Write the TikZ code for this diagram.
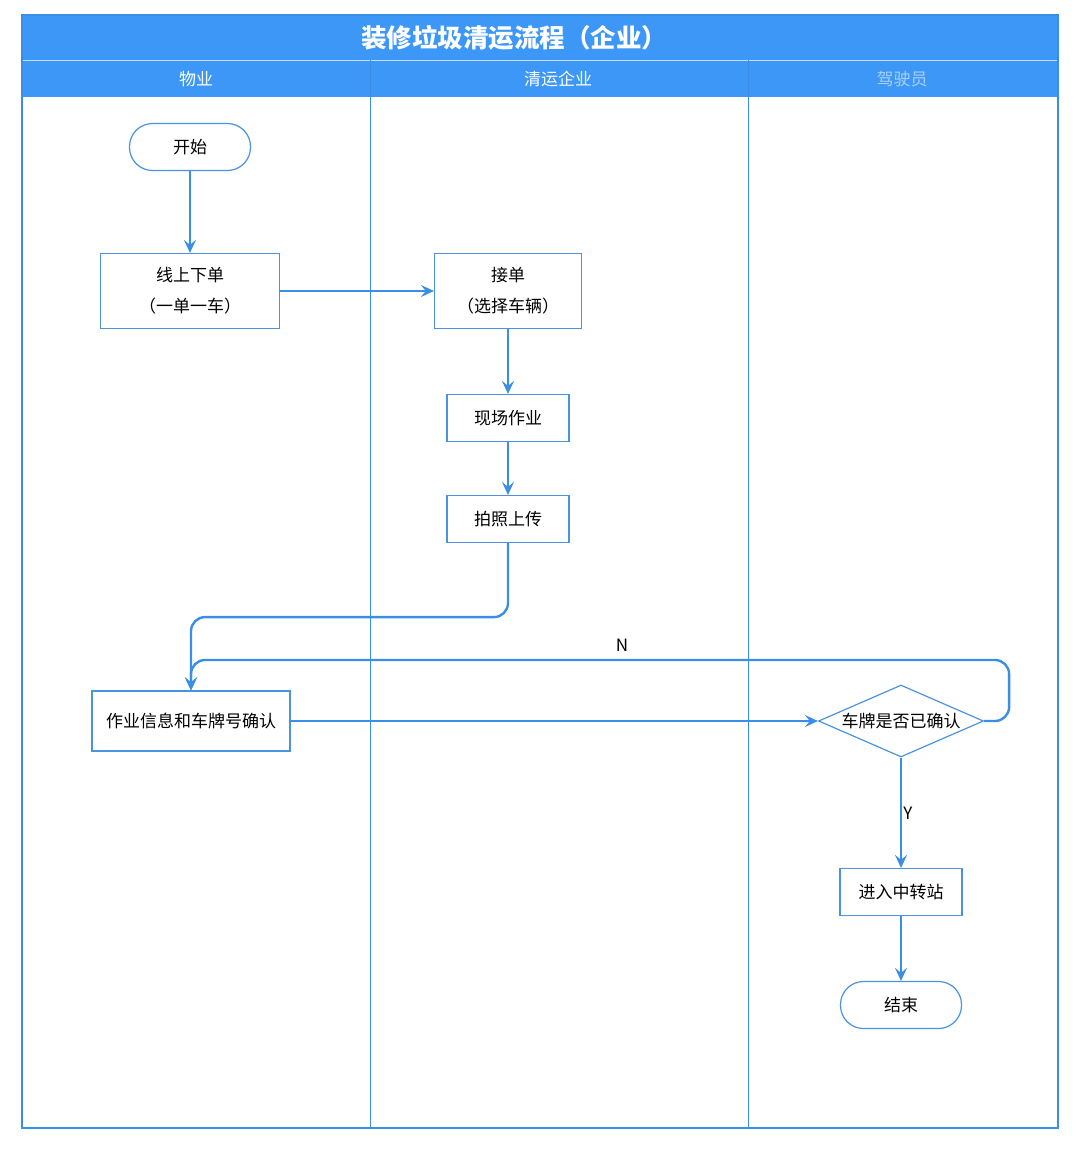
\documentclass[tikz,border=0pt]{standalone}
\usepackage{fontspec}
\setmainfont{Noto Sans CJK SC}
\usetikzlibrary{shapes.geometric,arrows.meta}
\definecolor{customcolor1}{HTML}{3D97F7}
\definecolor{customcolor2}{HTML}{3A8EE6}
\definecolor{customcolor3}{HTML}{4A93E0}

\begin{document}
\begin{tikzpicture}[x = 1pt, y = -1pt,
        box/.style = {draw = customcolor3, line width = 1.2pt, fill = white, align = center,
            font = \fontsize{17}{31}\selectfont, inner sep = 0pt},
        term/.style = {box, rounded corners = 23pt, minimum width = 121pt, minimum height = 47pt},
        decision/.style = {box, diamond, aspect = 2.3, minimum width = 165pt, minimum height = 72pt, inner sep = 1pt},
        flow/.style = {draw = customcolor2, line width = 2.4pt, -{Stealth[length = 13pt, width = 12pt, inset = 5pt]}},
        lane/.style = {draw = customcolor2, line width = 0.8pt},
        head/.style = {text = white, font = \fontsize{17}{20}\selectfont}]

        % Frame
        \fill [white] (0, 0) rectangle (1080, 1149);
        \useasboundingbox (0, 0) rectangle (1080, 1149);
        \fill [customcolor1] (22, 15) rectangle (1058, 97);
        \draw [white!70!customcolor1, line width = 0.8pt] (22, 60) -- (1058, 60);
        \draw [lane] (370, 60) -- (370, 1128);
        \draw [lane] (748, 60) -- (748, 1128);
        \draw [customcolor2, line width = 2.2pt] (22, 15) rectangle (1058, 1128);

        % Title and lanes
        \node [text = white, font = \fontsize{25.5}{30}\selectfont\bfseries] (title) at (514, 38) {装修垃圾清运流程（企业）};
        \node [head] (lane1) at (196, 79) {物业};
        \node [head] (lane2) at (558, 79) {清运企业};
        \node [head, opacity = 0.55] (lane3) at (902, 79) {驾驶员};

        % Nodes
        \node [term] (start) at (190, 147) {开始};
        \node [box, minimum width = 179pt, minimum height = 75pt] (order) at (190, 291) {线上下单\\（一单一车）};
        \node [box, minimum width = 147pt, minimum height = 75pt] (accept) at (508, 291) {接单\\（选择车辆）};
        \node [box, minimum width = 122pt, minimum height = 47pt] (site) at (508, 418) {现场作业};
        \node [box, minimum width = 122pt, minimum height = 47pt] (photo) at (508, 519) {拍照上传};
        \node [box, minimum width = 198pt, minimum height = 60pt] (confirm) at (191, 721) {作业信息和车牌号确认};
        \node [decision] (check) at (901, 721) {车牌是否已确认};
        \node [box, minimum width = 122pt, minimum height = 47pt] (transfer) at (901, 892) {进入中转站};
        \node [term] (end) at (901, 1005) {结束};

        % Lines
        \draw [flow] (start) -- (order);
        \draw [flow] (order) -- (accept);
        \draw [flow] (accept) -- (site);
        \draw [flow] (site) -- (photo);
        \draw [flow, rounded corners = 14pt] (photo.south) -- ++(0, 74) -| (confirm.north);
        \draw [flow] (confirm) -- (check);
        \draw [flow, rounded corners = 14pt] (check.east) -- ++(25, 0) -- ++(0, -61) -| (confirm.north);
        \draw [flow] (check) -- (transfer);
        \draw [flow] (transfer) -- (end);

        % Branch labels
        \node [font = \fontsize{17}{20}\selectfont] (no) at (622, 645) {N};
        \node [font = \fontsize{17}{20}\selectfont] (yes) at (908, 813) {Y};

    \end{tikzpicture}
\end{document}
